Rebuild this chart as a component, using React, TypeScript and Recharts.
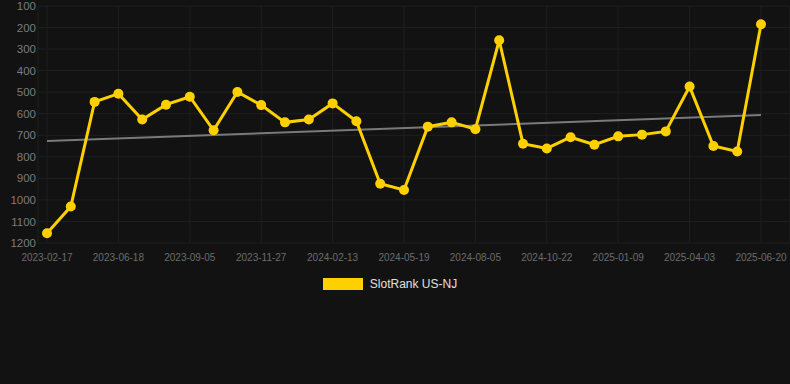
import React from 'react'
import { CartesianGrid, Legend, Line, LineChart, ReferenceLine, XAxis, YAxis } from 'recharts'

const dates = [
    '2023-02-17', '2023-03-29', '2023-05-09', '2023-06-18', '2023-07-14', '2023-08-10',
    '2023-09-05', '2023-10-02', '2023-10-30', '2023-11-27', '2023-12-23', '2024-01-18',
    '2024-02-13', '2024-03-15', '2024-04-17', '2024-05-19', '2024-06-14', '2024-07-10',
    '2024-08-05', '2024-08-31', '2024-09-26', '2024-10-22', '2024-11-17', '2024-12-14',
    '2025-01-09', '2025-02-06', '2025-03-06', '2025-04-03', '2025-04-29', '2025-05-25',
    '2025-06-20',
]

const ranks = [
    1155, 1031, 545, 507, 627, 558, 521, 677, 499, 560, 640, 627,
    552, 635, 925, 954, 660, 640, 672, 259, 739, 761, 709, 744,
    705, 697, 682, 474, 750, 775, 185,
]

const yTicks = [100, 200, 300, 400, 500, 600, 700, 800, 900, 1000, 1100, 1200]

// regression line end points
const trendStart = 727
const trendEnd = 606

const data = dates.map((date, i) => ({ date, rank: ranks[i] }))

const YELLOW = '#ffd000'

const renderLegend = () => (
    <div style={{ display: 'flex', justifyContent: 'center', alignItems: 'center', fontFamily: '"Liberation Sans", Arial, sans-serif', fontSize: 12, color: '#e0e0e0' }}>
        <span style={{ display: 'inline-block', width: 40, height: 12, background: YELLOW, marginRight: 7 }} />
        <span>SlotRank US-NJ</span>
    </div>
)

export default function App() {
    return (
        <div style={{ position: 'fixed', left: 0, top: 0, width: 790, height: 384, background: '#121212' }}>
            <LineChart width={790} height={384} data={data} margin={{ top: 6, right: 0, left: 0, bottom: 111 }}>
                <CartesianGrid stroke="#1f1f1f" strokeWidth={1} />
                <XAxis
                    dataKey="date"
                    interval={2}
                    padding={{ left: 9, right: 29 }}
                    axisLine={false}
                    tickLine={false}
                    tickSize={0}
                    tickMargin={11}
                    height={30}
                    tick={{ fill: '#6c6c6c', fontSize: 10, fontFamily: '"Liberation Sans", Arial, sans-serif' }}
                />
                <YAxis
                    reversed
                    domain={[100, 1200]}
                    ticks={yTicks}
                    interval={0}
                    width={38}
                    axisLine={false}
                    tickLine={false}
                    tickSize={0}
                    tickMargin={2}
                    tick={{ fill: '#7c7c7c', fontSize: 11.5, fontFamily: '"Liberation Sans", Arial, sans-serif' }}
                />
                <ReferenceLine
                    segment={[{ x: dates[0], y: trendStart }, { x: dates[dates.length - 1], y: trendEnd }]}
                    stroke="#7a7a7a"
                    strokeWidth={2}
                />
                <Line
                    type="linear"
                    dataKey="rank"
                    name="SlotRank US-NJ"
                    stroke={YELLOW}
                    strokeWidth={3}
                    dot={{ r: 5, fill: YELLOW, stroke: YELLOW, strokeWidth: 0 }}
                    activeDot={false}
                    isAnimationActive={false}
                />
                <Legend
                    layout="horizontal"
                    verticalAlign="middle"
                    align="center"
                    content={renderLegend}
                    wrapperStyle={{ top: 277, left: 0, width: 780 }}
                />
            </LineChart>
        </div>
    )
}
